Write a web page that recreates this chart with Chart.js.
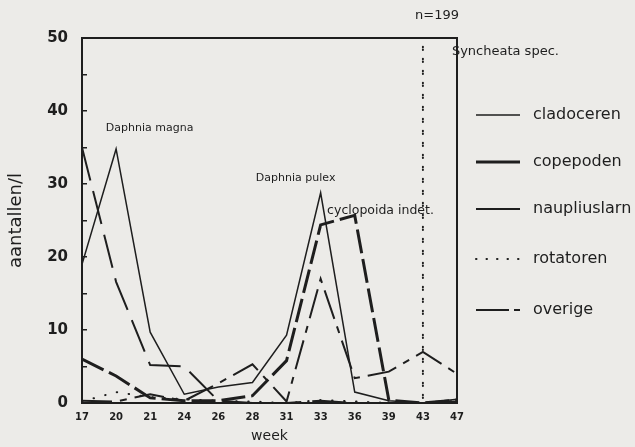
<!DOCTYPE html>
<html>
<head>
<meta charset="utf-8">
<script src="https://cdn.jsdelivr.net/npm/chart.js@4.4.1/dist/chart.umd.min.js"></script>
<style>
  html, body { margin: 0; padding: 0; background: #ecebe8; }
  canvas { display: block; }
</style>
</head>
<body>
<canvas id="chart" width="635" height="447"></canvas>
<script>
// weken (categorieen, gelijk verdeeld op de as)
const weeks = ["17", "20", "21", "24", "26", "28", "31", "33", "36", "39", "43", "47"];

// aantallen per liter
const cladoceren   = [19, 34.8, 9.7, 1.2, 2.2, 2.8, 9.3, 28.8, 1.5, 0.3, 0, 0.5];
const copepoden    = [6, 3.7, 0.7, 0.3, 0.3, 1.0, 5.8, 24.4, 25.7, 0.4, 0, 0.4];
const naupliuslarn = [35, 16.6, 5.2, 5.0, 0.3, 0, 0, 0.3, 0, 0, 0, 0.2];
const rotatoren    = [0.2, 1.5, 0.8, 0.5, 0.3, 0.2, 0, 0.4, 0.2, 0, 199, 0.3];
const overige      = [0.3, 0.2, 1.2, 0.3, 2.7, 5.3, 0.2, 17, 3.4, 4.3, 7, 4];

const yTicks = [0, 10, 20, 30, 40, 50];
const yMax = 50;

const INK = '#1e1e1e';
const FONT = "'DejaVu Sans', sans-serif";

// punten op index-as; waarden boven de schaal als verticale piek (zoals in het origineel)
function toPoints(values) {
    const pts = [];
    values.forEach((v, i) => {
        if (v > yMax) {
            pts.push({ x: i, y: 0 }, { x: i, y: v }, { x: i, y: 0 });
        } else {
            pts.push({ x: i, y: v });
        }
    });
    return pts;
}

const series = [
    { label: 'cladoceren',   data: cladoceren,   width: 1.5, dash: [],            legendDash: [] },
    { label: 'copepoden',    data: copepoden,    width: 3,   dash: [24, 6],       legendDash: [] },
    { label: 'naupliuslarn', data: naupliuslarn, width: 2,   dash: [34, 11],      legendDash: [] },
    { label: 'rotatoren',    data: rotatoren,    width: 2,   dash: [0.5, 11.5],   legendDash: [0.5, 10] },
    { label: 'overige',      data: overige,      width: 2,   dash: [30, 8, 7, 8], legendDash: [33, 5, 6, 50] }
];

// vaste kader rond het plotvlak
const framePlugin = {
    id: 'frame',
    afterDatasetsDraw(chart) {
        const a = chart.chartArea, ctx = chart.ctx;
        ctx.save();
        ctx.strokeStyle = INK;
        ctx.lineWidth = 2;
        ctx.setLineDash([]);
        ctx.strokeRect(a.left, a.top, a.right - a.left, a.bottom - a.top);
        ctx.restore();
    }
};

// tekstlabels bij de pieken
const notes = [
    { text: 'Daphnia magna',     x: 0.70,  y: 37.7, size: 11 },
    { text: 'Daphnia pulex',     x: 5.10,  y: 30.8, size: 11 },
    { text: 'cyclopoida indet.', x: 7.19,  y: 26.3, size: 12.5 },
    { text: 'n=199',             x: 9.77,  y: 53.0, size: 13 },
    { text: 'Syncheata spec.',   x: 10.85, y: 48.1, size: 13 }
];

const notesPlugin = {
    id: 'notes',
    afterDraw(chart) {
        const ctx = chart.ctx, xs = chart.scales.x, ys = chart.scales.y;
        ctx.save();
        ctx.fillStyle = INK;
        ctx.textAlign = 'left';
        ctx.textBaseline = 'middle';
        notes.forEach(n => {
            ctx.font = n.size + 'px ' + FONT;
            ctx.fillText(n.text, xs.getPixelForValue(n.x), ys.getPixelForValue(n.y));
        });
        ctx.restore();
    }
};

// legenda rechts van het plotvlak
const legendPlugin = {
    id: 'sideLegend',
    afterDraw(chart) {
        const ctx = chart.ctx, a = chart.chartArea;
        const x0 = a.right + 19, lineLen = 44, textX = a.right + 76;
        const ys = [115, 162, 209, 259, 310];
        ctx.save();
        chart.data.datasets.forEach((ds, i) => {
            const y = ys[i];
            ctx.strokeStyle = INK;
            ctx.lineWidth = ds.borderWidth;
            ctx.lineCap = i === 3 ? 'round' : 'butt';
            ctx.setLineDash(series[i].legendDash);
            ctx.beginPath();
            ctx.moveTo(x0, y);
            ctx.lineTo(x0 + lineLen, y);
            ctx.stroke();
            ctx.setLineDash([]);
            ctx.fillStyle = INK;
            ctx.font = '16px ' + FONT;
            ctx.textBaseline = 'middle';
            ctx.fillText(ds.label, textX, y);
        });
        ctx.restore();
    }
};

new Chart(document.getElementById('chart'), {
    type: 'line',
    data: {
        datasets: series.map((s, i) => ({
            label: s.label,
            data: toPoints(s.data),
            borderColor: INK,
            borderWidth: s.width,
            borderDash: s.dash,
            borderCapStyle: i === 3 ? 'round' : 'butt',
            pointRadius: 0,
            tension: 0,
            fill: false
        }))
    },
    options: {
        responsive: false,
        animation: false,
        layout: { padding: { top: 38, right: 178, left: 0, bottom: 0 } },
        plugins: {
            legend: { display: false },
            tooltip: { enabled: false }
        },
        scales: {
            x: {
                type: 'linear',
                min: 0,
                max: weeks.length - 1,
                grid: { display: false, drawTicks: false },
                border: { display: true, color: INK, width: 2 },
                ticks: {
                    stepSize: 1,
                    autoSkip: false,
                    padding: 8,
                    color: INK,
                    font: { family: FONT, size: 10, weight: 'bold' },
                    callback: v => weeks[v] ?? ''
                },
                title: {
                    display: true,
                    text: 'week',
                    color: INK,
                    font: { family: FONT, size: 14 },
                    padding: { top: 0, bottom: 2 }
                },
                afterFit: s => { s.height = 44; }
            },
            y: {
                min: 0,
                max: yMax,
                grid: {
                    display: true,
                    drawOnChartArea: false,
                    drawTicks: true,
                    tickLength: -5,
                    color: INK,
                    lineWidth: 1.5
                },
                border: { display: true, color: INK, width: 2 },
                ticks: {
                    stepSize: 5,
                    padding: 19,
                    color: INK,
                    font: { family: FONT, size: 15, weight: 'bold' },
                    callback: v => yTicks.includes(v) ? String(v) : ''
                },
                title: {
                    display: true,
                    text: 'aantallen/l',
                    color: INK,
                    font: { family: FONT, size: 18 },
                    padding: { top: 6, bottom: 0 }
                },
                afterFit: s => { s.width = 82; }
            }
        }
    },
    plugins: [framePlugin, notesPlugin, legendPlugin]
});
</script>
</body>
</html>
